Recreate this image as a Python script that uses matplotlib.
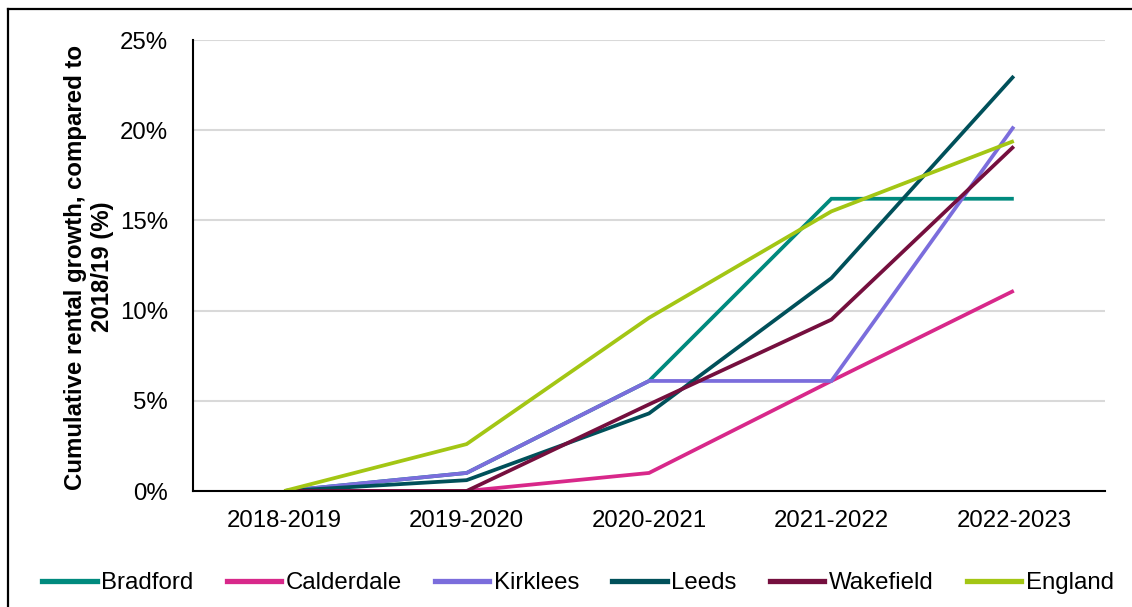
import matplotlib
matplotlib.use("Agg")
import matplotlib.pyplot as plt
from matplotlib.lines import Line2D
from matplotlib.ticker import FuncFormatter

plt.rcParams['font.family'] = ['Liberation Sans', 'DejaVu Sans']

years = ["2018-2019", "2019-2020", "2020-2021", "2021-2022", "2022-2023"]

bradford = [0.0, 1.0, 6.1, 16.2, 16.2]
calderdale = [0.0, 0.0, 1.0, 6.1, 11.1]
kirklees = [0.0, 1.0, 6.1, 6.1, 20.2]
leeds = [0.0, 0.6, 4.3, 11.8, 23.0]
wakefield = [0.0, 0.0, 4.8, 9.5, 19.1]
england = [0.0, 2.6, 9.6, 15.5, 19.4]

series = [
    ("Bradford", bradford, "#008a7e"),
    ("Calderdale", calderdale, "#d8288a"),
    ("Kirklees", kirklees, "#7b6ddc"),
    ("Leeds", leeds, "#00505a"),
    ("Wakefield", wakefield, "#750f3e"),
    ("England", england, "#a3c614"),
]

FS = 17.3

fig = plt.figure(figsize=(11.32, 6.07), dpi=100)
ax = fig.add_axes([193 / 1132, 1 - 491 / 607, 912 / 1132, 451 / 607])

x = list(range(len(years)))
for name, vals, color in series:
    ax.plot(x, vals, color=color, lw=2.7, label=name, solid_capstyle='butt',
            solid_joinstyle='miter')

ax.set_xlim(-0.5, 4.5)
ax.set_ylim(0, 25)
ax.set_yticks([0, 5, 10, 15, 20, 25])
ax.yaxis.set_major_formatter(FuncFormatter(lambda v, p: f"{v:.0f}%"))
ax.set_xticks(x)
ax.set_xticklabels(years)
ax.tick_params(axis='both', length=0, labelsize=FS, colors='black')
ax.tick_params(axis='y', pad=18)
ax.tick_params(axis='x', pad=14)
ax.grid(axis='y', color='#d9d9d9', lw=1.5)
ax.set_axisbelow(True)
for s in ['top', 'right']:
    ax.spines[s].set_visible(False)
for s in ['left', 'bottom']:
    ax.spines[s].set_linewidth(1.5)
    ax.spines[s].set_color('black')
ax.spines['bottom'].set_zorder(3)

fig.text(89 / 1132, 1 - 267 / 607, "Cumulative rental growth, compared to\n2018/19 (%)",
         rotation=90, ha='center', va='center', fontsize=FS, fontweight='bold',
         linespacing=1.2)

handles = [Line2D([], [], color=c, lw=3.8) for _, _, c in series]
fig.legend(handles, [n for n, _, _ in series], loc='center',
           bbox_to_anchor=(578 / 1132, 1 - 583 / 607), ncol=6, frameon=False,
           fontsize=FS, handlelength=2.25, handletextpad=0.2, columnspacing=1.38)

# outer frame (top and left edges)
fig.add_artist(Line2D([8 / 1132, 1.0], [1 - 8.5 / 607] * 2, color='black', lw=1.6,
                      transform=fig.transFigure))
fig.add_artist(Line2D([8 / 1132] * 2, [0.0, 1 - 8.5 / 607], color='black', lw=1.6,
                      transform=fig.transFigure))

fig.savefig("out.png", dpi=100)
